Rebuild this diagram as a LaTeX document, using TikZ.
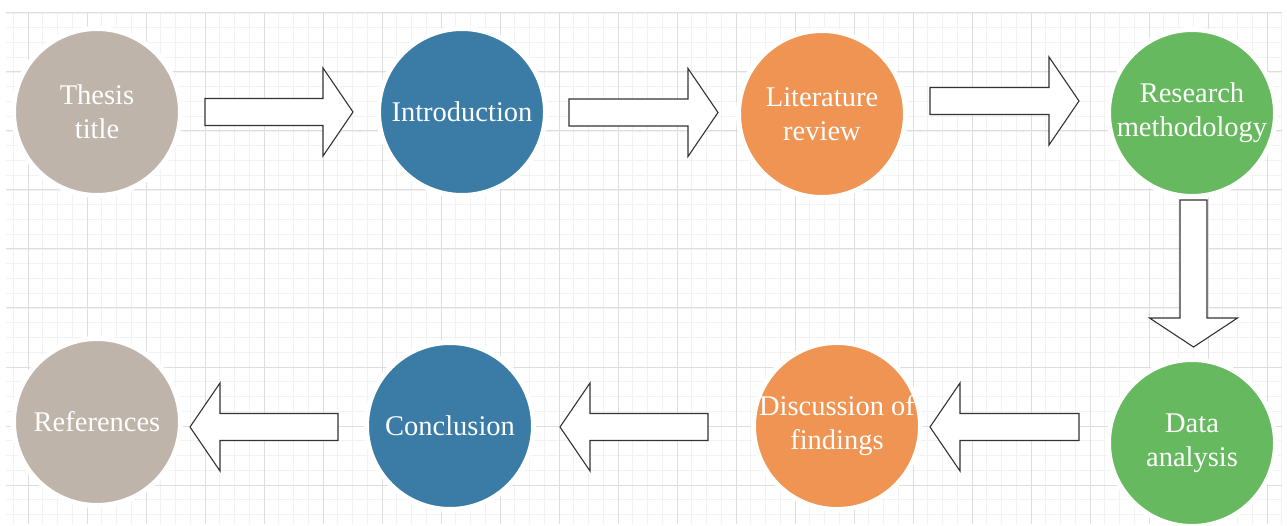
\documentclass[tikz,border=0pt]{standalone}
\usepackage{fontspec}
\setmainfont{Liberation Serif}
\definecolor{cbeige}{RGB}{191,180,170}
\definecolor{cblue}{RGB}{58,124,166}
\definecolor{corange}{RGB}{239,148,82}
\definecolor{cgreen}{RGB}{102,185,94}
\tikzset{
  stage/.style={circle, minimum size=167pt, inner sep=0pt, draw=white, line width=5pt,
    text=white, align=center, font=\fontsize{28.5}{34}\selectfont},
  blockarrow/.style={fill=white, draw=black!80, line width=1.1pt, line join=miter},
  minorgrid/.style={draw=black!5, line width=0.8pt},
  majorgrid/.style={draw=black!13, line width=1pt}
}
\newcommand{\rarrow}[4]{% shaft start, head base, tip, centre y
  \path[blockarrow] (#1,#4-13.5) -- (#2,#4-13.5) -- (#2,#4-44) -- (#3,#4) -- (#2,#4+44) -- (#2,#4+13.5) -- (#1,#4+13.5) -- cycle;}
\begin{document}
\begin{tikzpicture}[x=1pt,y=-1pt]
\useasboundingbox (0,0) rectangle (1287,526);
\fill[white] (0,0) rectangle (1287,526);
% grid
\foreach \i in {0,...,86} \draw[minorgrid] (13.25+14.75*\i,12) -- (13.25+14.75*\i,524);
\foreach \j in {0,...,34} \draw[minorgrid] (6,13+14.75*\j) -- (1282,13+14.75*\j);
\foreach \i in {0,...,21} \draw[majorgrid] (28+59*\i,12) -- (28+59*\i,524);
\foreach \j in {0,...,8} \draw[majorgrid] (6,13+59*\j) -- (1282,13+59*\j);
% stages
\node[stage, fill=cbeige]  (thesis) at (97,112)   {Thesis\\title};
\node[stage, fill=cblue]   (intro)  at (462,112)  {Introduction};
\node[stage, fill=corange] (lit)    at (822,114)  {Literature\\review};
\node[stage, fill=cgreen]  (method) at (1192,113) {Research\\methodology};
\node[stage, fill=cgreen]  (data)   at (1192,443) {Data\\analysis};
\node[stage, fill=corange] (disc)   at (837,426)  {Discussion of\\findings};
\node[stage, fill=cblue]   (concl)  at (450,426)  {Conclusion};
\node[stage, fill=cbeige]  (refs)   at (97,422)   {References};
% block arrows
\rarrow{205}{323}{353}{112}
\rarrow{569}{688}{718}{112.5}
\rarrow{930}{1049}{1079}{101}
\path[blockarrow] (1180,200) -- (1207,200) -- (1207,318) -- (1237.5,318) -- (1193.5,347) -- (1149.5,318) -- (1180,318) -- cycle;
\rarrow{1079}{960}{930}{427}
\rarrow{708}{590}{560}{427}
\rarrow{338}{220}{190}{427}
\end{tikzpicture}
\end{document}
